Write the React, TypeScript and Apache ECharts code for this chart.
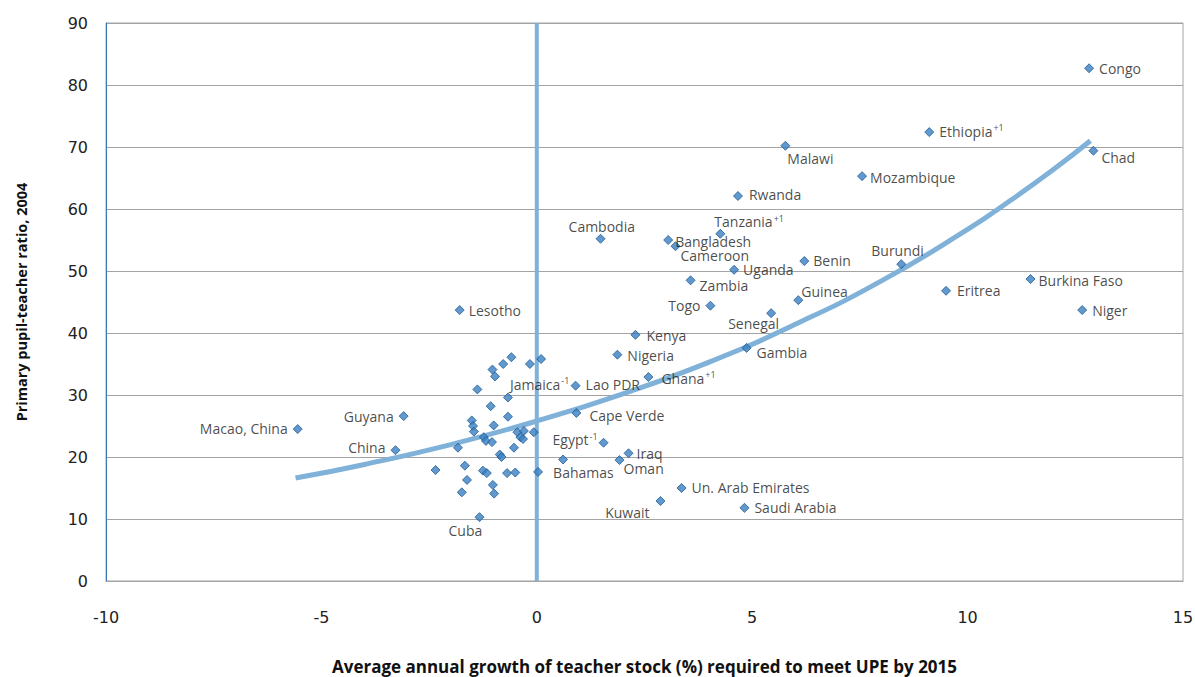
import React, { useEffect, useRef } from 'react';
import * as echarts from 'echarts';

// Labelled countries
const countries = [
  'Congo', 'Ethiopia', 'Malawi', 'Chad', 'Mozambique', 'Rwanda', 'Tanzania', 'Cambodia',
  'Bangladesh', 'Cameroon', 'Benin', 'Burundi', 'Uganda', 'Burkina Faso', 'Zambia', 'Eritrea',
  'Guinea', 'Togo', 'Lesotho', 'Niger', 'Senegal', 'Kenya', 'Gambia', 'Nigeria', 'Ghana',
  'Lao PDR', 'Jamaica', 'Cape Verde', 'Guyana', 'Macao, China', 'Egypt', 'China', 'Iraq',
  'Oman', 'Bahamas', 'Un. Arab Emirates', 'Kuwait', 'Saudi Arabia', 'Cuba',
];
const superscripts = [
  '', '+1', '', '', '', '', '+1', '',
  '', '', '', '', '', '', '', '',
  '', '', '', '', '', '', '', '', '+1',
  '', '-1', '', '', '', '-1', '', '',
  '', '', '', '', '', '',
];
const growth = [
  12.82, 9.11, 5.77, 12.92, 7.55, 4.67, 4.26, 1.48,
  3.05, 3.22, 6.21, 8.46, 4.58, 11.46, 3.57, 9.5,
  6.07, 4.03, -1.79, 12.66, 5.44, 2.29, 4.87, 1.87, 2.59,
  0.9, -0.67, 0.92, -3.09, -5.55, 1.55, -3.28, 2.13,
  1.92, 0.03, 3.36, 2.87, 4.82, -1.33,
];
const ptr = [
  82.7, 72.4, 70.2, 69.4, 65.3, 62.1, 56.0, 55.2,
  55.0, 54.0, 51.6, 51.1, 50.2, 48.7, 48.5, 46.8,
  45.3, 44.4, 43.7, 43.7, 43.2, 39.7, 37.6, 36.5, 32.9,
  31.5, 29.6, 27.1, 26.6, 24.5, 22.3, 21.1, 20.6,
  19.5, 17.6, 15.0, 12.9, 11.8, 10.3,
];

// Unlabelled countries
const otherGrowth = [
  -0.59, 0.1, -0.16, -0.78, -1.03, -0.97, -1.38, -1.07, -0.67, -1.51, -1.0, -1.48,
  -1.46, -0.45, -0.3, -0.07, -1.23, -0.38, -0.32, -1.18, -1.04, -1.83, -0.53, -0.86,
  -0.82, 0.61, -1.67, -2.35, -1.25, -1.16, -0.69, -0.5, -1.62, -1.02, -1.74, -0.99,
];
const otherPtr = [
  36.1, 35.8, 35.0, 35.0, 34.1, 33.0, 30.9, 28.2, 26.5, 25.9, 25.1, 25.0,
  24.1, 24.0, 24.2, 24.0, 23.2, 23.2, 22.9, 22.6, 22.4, 21.5, 21.5, 20.4,
  20.0, 19.6, 18.6, 17.9, 17.8, 17.4, 17.4, 17.5, 16.3, 15.5, 14.3, 14.1,
];

// Trend curve
const trendGrowth = [-5.6, -4, -2, 0, 2, 4, 6, 8, 10, 11, 12, 12.85];
const trendPtr = [16.6, 18.8, 22.0, 25.8, 30.2, 35.3, 41.4, 48.4, 56.7, 61.4, 66.4, 71.0];

// Reference line at zero growth
const zeroLineX = [0, 0];
const zeroLineY = [0, 90];

// Label placement (layout only)
const labelPlace: Record<string, [string, number, number]> = {
  'Congo': ['right', 0, 0],
  'Ethiopia': ['right', 0, -1],
  'Malawi': ['right', -8, 13],
  'Chad': ['right', -2, 7],
  'Mozambique': ['right', -2, 1],
  'Rwanda': ['right', 1, -1],
  'Tanzania': ['right', -16, -12],
  'Cambodia': ['right', -42, -12],
  'Bangladesh': ['right', -3, 1],
  'Cameroon': ['right', -5, 9],
  'Benin': ['right', -1, -1],
  'Burundi': ['right', -40, -14],
  'Uganda': ['right', -1, 0],
  'Burkina Faso': ['right', -2, 1],
  'Zambia': ['right', -1, 5],
  'Eritrea': ['right', 1, 0],
  'Guinea': ['right', -7, -9],
  'Togo': ['left', 0, 0],
  'Lesotho': ['right', -1, 0],
  'Niger': ['right', 0, 0],
  'Senegal': ['right', -53, 10],
  'Kenya': ['right', 1, 1],
  'Gambia': ['right', 0, 5],
  'Nigeria': ['right', 0, 1],
  'Ghana': ['right', 3, 1],
  'Lao PDR': ['right', 0, -1],
  'Jamaica': ['right', -8, -13],
  'Cape Verde': ['right', 3, 3],
  'Guyana': ['left', 0, 0],
  'Macao, China': ['left', 0, -1],
  'Egypt': ['left', 4, -3],
  'China': ['left', 0, -3],
  'Iraq': ['right', -2, 0],
  'Oman': ['right', -6, 8],
  'Bahamas': ['right', 5, 1],
  'Un. Arab Emirates': ['right', 0, -1],
  'Kuwait': ['left', -1, 11],
  'Saudi Arabia': ['right', 0, 0],
  'Cuba': ['right', -41, 13],
};

const MARKER_COLOR = '#3a80c2';
const MARKER_BORDER = '#1f5c96';
const LINE_COLOR = '#80b2d9';
const GRID_COLOR = '#a3a3a3';
const LABEL_FONT = '"Open Sans", "Noto Sans", sans-serif';

export default function App() {
  const ref = useRef<HTMLDivElement>(null);

  useEffect(() => {
    document.body.style.margin = '0';
    if (!ref.current) return;
    const chart = echarts.init(ref.current, undefined, { renderer: 'svg' });

    const labelled = countries.map((name, i) => {
      const place = labelPlace[name] || ['right', 0, 0];
      return {
        name,
        value: [growth[i], ptr[i]],
        label: { position: place[0], offset: [place[1], place[2]] },
      };
    });
    const others = otherGrowth.map((g, i) => [g, otherPtr[i]]);
    const trend = trendGrowth.map((g, i) => [g, trendPtr[i]]);
    const zeroLine = zeroLineX.map((g, i) => [g, zeroLineY[i]]);

    const option: any = {
      animation: false,
      backgroundColor: '#ffffff',
      grid: {
        left: 106, right: 12, top: 23, bottom: 96,
        outerBoundsMode: 'none', containLabel: false,
        show: true, borderColor: GRID_COLOR, borderWidth: 1, backgroundColor: 'transparent',
      },
      xAxis: {
        type: 'value', min: -10, max: 15, interval: 5,
        axisLine: { show: true, onZero: false, lineStyle: { color: GRID_COLOR, width: 1 } },
        axisTick: { show: false },
        splitLine: { show: false },
        axisLabel: { fontFamily: '"DejaVu Sans", sans-serif', fontSize: 16, color: '#222', margin: 28 },
        name: 'Average annual growth of teacher stock (%) required to meet UPE by 2015',
        nameLocation: 'middle', nameGap: 77,
        nameTextStyle: { fontFamily: LABEL_FONT, fontWeight: 'bold', fontSize: 17, color: '#111' },
      },
      yAxis: {
        type: 'value', min: 0, max: 90, interval: 10,
        axisLine: { show: true, onZero: false, lineStyle: { color: '#3a78b5', width: 1 } },
        axisTick: { show: false },
        splitLine: { show: true, lineStyle: { color: GRID_COLOR, width: 1 } },
        axisLabel: { fontFamily: '"DejaVu Sans", sans-serif', fontSize: 16, color: '#222', margin: 18 },
        name: 'Primary pupil-teacher ratio, 2004',
        nameLocation: 'middle', nameGap: 77, nameRotate: 90,
        nameTextStyle: { fontFamily: LABEL_FONT, fontWeight: 'bold', fontSize: 14.5, color: '#111' },
      },
      series: [
        {
          type: 'line', data: zeroLine, symbol: 'none', silent: true, z: 1,
          lineStyle: { color: LINE_COLOR, width: 4 },
        },
        {
          type: 'line', data: trend, symbol: 'none', smooth: true, silent: true, z: 1,
          lineStyle: { color: LINE_COLOR, width: 5 },
        },
        {
          type: 'scatter', data: others, symbol: 'diamond', symbolSize: 9, z: 3,
          itemStyle: { color: MARKER_COLOR, borderColor: MARKER_BORDER, borderWidth: 1 },
        },
        {
          type: 'scatter', data: labelled, symbol: 'diamond', symbolSize: 9, z: 3,
          itemStyle: { color: MARKER_COLOR, borderColor: MARKER_BORDER, borderWidth: 1 },
          label: {
            show: true,
            distance: 5,
            color: '#1a1a1a',
            formatter: (p: any) => {
              const idx = countries.indexOf(p.name);
              const sup = idx >= 0 ? superscripts[idx] : '';
              return sup ? `{n|${p.name}}{s|${sup}}` : `{n|${p.name}}`;
            },
            rich: {
              n: { fontFamily: LABEL_FONT, fontSize: 14, color: '#1a1a1a' },
              s: { fontFamily: LABEL_FONT, fontSize: 9, color: '#1a1a1a', padding: [0, 0, 7, 1] },
            },
          },
        },
      ],
    };

    chart.setOption(option);
    return () => chart.dispose();
  }, []);

  return <div ref={ref} style={{ width: 1195, height: 677 }} />;
}
